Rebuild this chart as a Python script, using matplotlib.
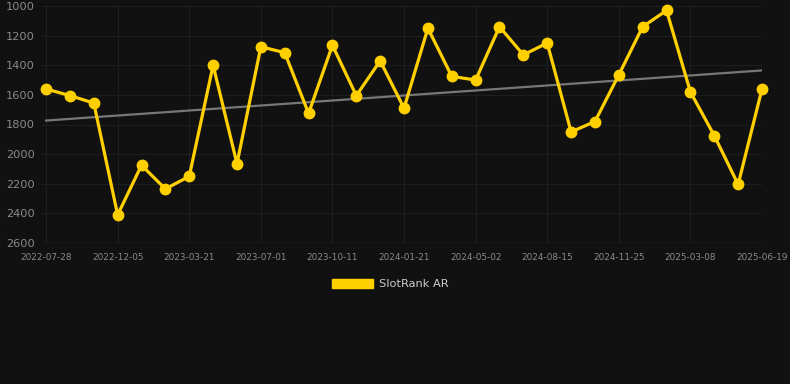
import numpy as np
import matplotlib.pyplot as plt
from matplotlib.patches import Patch

# rank values per snapshot (lower = better, axis inverted)
ranks = [1560, 1605, 1655, 2410, 2075, 2235, 2150, 1400, 2065, 1275,
         1315, 1725, 1265, 1605, 1370, 1690, 1150, 1475, 1500, 1140,
         1330, 1250, 1850, 1780, 1465, 1140, 1030, 1580, 1875, 2205,
         1560]
tick_labels = ['2022-07-28', '2022-12-05', '2023-03-21', '2023-07-01',
               '2023-10-11', '2024-01-21', '2024-05-02', '2024-08-15',
               '2024-11-25', '2025-03-08', '2025-06-19']
y_ticks = [1000, 1200, 1400, 1600, 1800, 2000, 2200, 2400, 2600]

bg = '#111111'
yellow = '#ffd000'
grid_c = '#1e1e1e'
text_c = '#8a8a8a'


def main():
    x = np.arange(len(ranks))
    y = np.array(ranks)

    fig = plt.figure(figsize=(7.9, 3.84), dpi=100, facecolor=bg)
    ax = fig.add_axes([42 / 790, 1 - 243 / 384, (762 - 42) / 790, (243 - 6) / 384])
    ax.set_facecolor(bg)

    # trend line (least squares)
    k, b = np.polyfit(x, y, 1)
    ax.plot(x, k * x + b, color='#777777', lw=1.6, zorder=2)

    ax.plot(x, y, color=yellow, lw=2.3, marker='o', ms=7.5, zorder=3, clip_on=False)

    ax.set_xlim(-0.17, 30)
    ax.set_ylim(2600, 1000)
    ax.set_yticks(y_ticks)
    ax.set_xticks(x[::3])
    ax.set_xticklabels(tick_labels)
    ax.tick_params(axis='x', colors=text_c, labelsize=6.4, length=0, pad=7)
    ax.tick_params(axis='y', colors=text_c, labelsize=8.2, length=0, pad=5)
    ax.grid(True, color=grid_c, lw=0.8)
    for s in ax.spines.values():
        s.set_visible(False)
    ax.axhline(2600, color='#2c2c2c', lw=1)

    handle = Patch(facecolor=yellow, edgecolor=yellow)
    fig.legend([handle], ['SlotRank AR'], loc='center', bbox_to_anchor=(0.494, 1 - 284 / 384),
               frameon=False, labelcolor='#cccccc', fontsize=8.2,
               handlelength=3.6, handleheight=0.95, handletextpad=0.5)

    fig.savefig('out.png', dpi=100, facecolor=bg)


if __name__ == "__main__":
    main()
